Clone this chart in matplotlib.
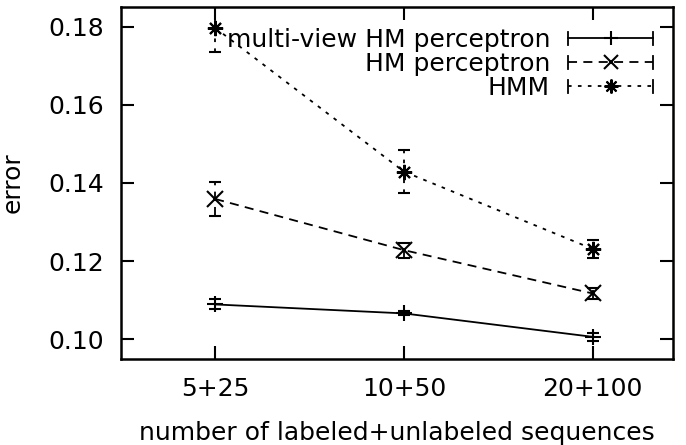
import matplotlib
matplotlib.use('Agg')
import matplotlib.pyplot as plt
from matplotlib.lines import Line2D
from matplotlib.legend_handler import HandlerBase

plt.rcParams['font.family'] = ['DejaVu Sans']

# data
groups = ['5+25', '10+50', '20+100']
mv_err = [0.1089, 0.1066, 0.1006]
mv_sd = [0.0013, 0.0005, 0.0010]
hm_err = [0.1359, 0.1228, 0.1117]
hm_sd = [0.0043, 0.0019, 0.0014]
hmm_err = [0.1797, 0.1429, 0.1231]
hmm_sd = [0.0063, 0.0055, 0.0023]
names = ['multi-view HM perceptron', 'HM perceptron', 'HMM']

styles = [
    dict(dashes=None, marker='+'),
    dict(dashes=(5, 3.5), marker='x'),
    dict(dashes=(2, 3.5), marker=(8, 2, 0)),
]


class GnuplotKey(HandlerBase):
    # gnuplot style key sample: line with end caps, marker in the middle
    def __init__(self, dashes, **kw):
        super().__init__(**kw)
        self.dashes = dashes

    def create_artists(self, legend, orig_handle, xdescent, ydescent,
                       width, height, fontsize, trans):
        y = height / 2.0 - ydescent
        x0, x1 = -xdescent, width - xdescent
        c = 4.5
        kw = dict(color='black', lw=1.3, transform=trans)
        line = Line2D([x0, x1], [y, y], **kw)
        if self.dashes is not None:
            line.set_dashes(self.dashes)
        cap0 = Line2D([x0, x0], [y - c, y + c], **kw)
        cap1 = Line2D([x1, x1], [y - c, y + c], **kw)
        mk = Line2D([(x0 + x1) / 2], [y], marker=orig_handle.get_marker(),
                    markersize=10, markeredgewidth=1.5, linestyle='none', **kw)
        return [line, cap0, cap1, mk]


fig = plt.figure(figsize=(6.86, 4.45), dpi=100)
ax = fig.add_axes([0.176, 0.193, 0.805, 0.791])

x = list(range(len(groups)))
handles = []
hmap = {}
for vals, sd, st, nm in zip([mv_err, hm_err, hmm_err], [mv_sd, hm_sd, hmm_sd], styles, names):
    cont = ax.errorbar(x, vals, yerr=sd, color='black', lw=1.3,
                       marker=st['marker'], markersize=11, markeredgewidth=1.5,
                       capsize=4.3, capthick=1.3, elinewidth=1.3)
    if st['dashes'] is not None:
        cont.lines[0].set_dashes(st['dashes'])
        for bl in cont.lines[2]:
            bl.set_linestyle((0, st['dashes']))
    h = Line2D([], [], color='black', marker=st['marker'])
    handles.append(h)
    hmap[h] = GnuplotKey(st['dashes'])

ax.set_xlim(-0.5, 2.425)
ax.set_ylim(0.0949, 0.185)
ax.set_xticks(x)
ax.set_xticklabels(groups)
ax.set_yticks([0.10, 0.12, 0.14, 0.16, 0.18])
ax.set_yticklabels(['0.10', '0.12', '0.14', '0.16', '0.18'])
ax.tick_params(direction='in', length=9.5, width=1.5, top=True, right=True,
               labelsize=18)
ax.tick_params(axis='y', pad=12)
ax.tick_params(axis='x', pad=13)
for sp in ax.spines.values():
    sp.set_linewidth(1.8)

ax.set_xlabel('number of labeled+unlabeled sequences', fontsize=18, labelpad=14)
ax.set_ylabel('error', fontsize=18, labelpad=17)

leg = ax.legend(handles, names, loc='upper right', bbox_to_anchor=(0.964, 0.94),
                frameon=False, markerfirst=False, fontsize=18, handlelength=3.4,
                handletextpad=0.72, labelspacing=0.0, borderpad=0, borderaxespad=0,
                handler_map=hmap)

fig.savefig('out.png', dpi=100)
